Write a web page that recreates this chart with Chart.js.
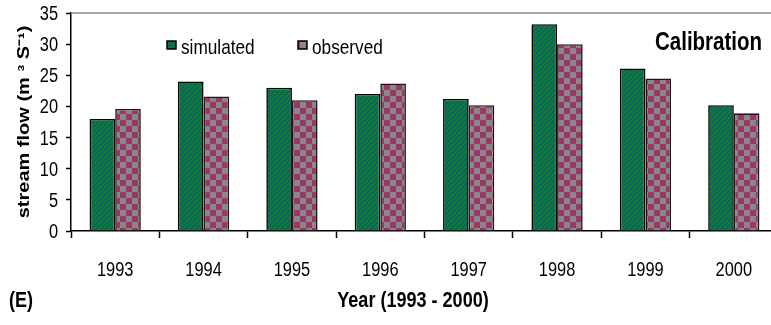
<!DOCTYPE html>
<html>
<head>
<meta charset="utf-8">
<script src="https://cdn.jsdelivr.net/npm/chart.js@4/dist/chart.umd.min.js"></script>
<style>
  html, body { margin: 0; padding: 0; background: #fff; overflow: hidden; }
  #wrap { width: 771px; height: 325px; overflow: hidden; }
</style>
</head>
<body>
<div id="wrap"><canvas id="c" width="800" height="325"></canvas></div>
<script>
// Annual stream flow, calibration period
const years = ['1993', '1994', '1995', '1996', '1997', '1998', '1999', '2000'];
const simulated = [18.0, 24.0, 23.0, 22.0, 21.2, 33.2, 26.1, 20.2];
const observed  = [19.6, 21.6, 21.0, 23.7, 20.2, 30.0, 24.5, 18.9];
const yTicks = [0, 5, 10, 15, 20, 25, 30, 35];

const FONT = '"Liberation Sans", Arial, sans-serif';
const NARROW = 0.82;   // horizontal squeeze for an Arial-Narrow look

// Green fill with blue "/" diagonal stripes
function stripePattern() {
  const s = 5;
  const c = document.createElement('canvas');
  c.width = s; c.height = s;
  const g = c.getContext('2d');
  g.fillStyle = '#0a870a';
  g.fillRect(0, 0, s, s);
  g.strokeStyle = '#1a3cd6';
  g.lineWidth = 1.1;
  g.beginPath();
  g.moveTo(-1, s + 1); g.lineTo(s + 1, -1);
  g.moveTo(-1, 1); g.lineTo(1, -1);
  g.moveTo(s - 1, s + 1); g.lineTo(s + 1, s - 1);
  g.stroke();
  return g.createPattern(c, 'repeat');
}

// Magenta / grey checkerboard
function checkerPattern() {
  const s = 6;
  const c = document.createElement('canvas');
  c.width = 2 * s; c.height = 2 * s;
  const g = c.getContext('2d');
  g.fillStyle = '#888888';
  g.fillRect(0, 0, 2 * s, 2 * s);
  g.fillStyle = '#9c3668';
  g.fillRect(0, 0, s, s);
  g.fillRect(s, s, s, s);
  return g.createPattern(c, 'repeat');
}

const simFill = stripePattern();
const obsFill = checkerPattern();

// text squeezed horizontally
function narrowText(ctx, str, x, y, font, align) {
  ctx.save();
  ctx.font = font;
  ctx.textAlign = align || 'left';
  ctx.textBaseline = 'alphabetic';
  ctx.fillStyle = '#000';
  ctx.translate(x, y);
  ctx.scale(NARROW, 1);
  ctx.fillText(str, 0, 0);
  ctx.restore();
}

const annotate = {
  id: 'annotate',
  afterDraw(chart) {
    const ctx = chart.ctx;
    const a = chart.chartArea;
    ctx.save();
    // top frame line
    ctx.strokeStyle = '#8c8c8c';
    ctx.lineWidth = 1.5;
    ctx.beginPath();
    ctx.moveTo(a.left, a.top);
    ctx.lineTo(a.right, a.top);
    ctx.stroke();

    // value labels beside the y axis
    const ys = chart.scales.y;
    ys.ticks.forEach(t => {
      narrowText(ctx, String(t.value), 58, ys.getPixelForValue(t.value) + 7, '20px ' + FONT, 'right');
    });

    // year labels under the category axis
    const xs = chart.scales.x;
    xs.ticks.forEach((t, i) => {
      narrowText(ctx, chart.data.labels[i], xs.getPixelForTick(i), 276, '20px ' + FONT, 'center');
    });

    // legend
    const items = [
      { x: 167, fill: simFill, label: chart.data.datasets[0].label },
      { x: 298, fill: obsFill, label: chart.data.datasets[1].label }
    ];
    items.forEach(it => {
      ctx.fillStyle = it.fill;
      ctx.fillRect(it.x, 41, 9, 8);
      ctx.strokeStyle = '#000';
      ctx.lineWidth = 1.5;
      ctx.strokeRect(it.x, 41, 9, 8);
      narrowText(ctx, it.label, it.x + 14, 54, '21px ' + FONT, 'left');
    });

    // panel caption
    narrowText(ctx, 'Calibration', 655, 50, 'bold 25px ' + FONT, 'left');

    // panel letter and x-axis title
    narrowText(ctx, '(E)', 9, 307, 'bold 22px ' + FONT, 'left');
    narrowText(ctx, 'Year (1993 - 2000)', 413, 307, 'bold 22px ' + FONT, 'center');

    // y-axis title (glyph height squeezed, length kept)
    ctx.translate(29, (a.top + a.bottom) / 2);
    ctx.rotate(-Math.PI / 2);
    ctx.scale(1, NARROW);
    ctx.font = 'bold 20px ' + FONT;
    ctx.textAlign = 'center';
    ctx.textBaseline = 'alphabetic';
    ctx.fillStyle = '#000';
    ctx.fillText('stream flow (m \u00B3 S\u207B\u00B9)', 0, 0);
    ctx.restore();
  }
};

new Chart(document.getElementById('c'), {
  type: 'bar',
  data: {
    labels: years,
    datasets: [
      { label: 'simulated', data: simulated, backgroundColor: simFill,
        borderColor: '#000', borderWidth: 1.6,
        categoryPercentage: 0.58, barPercentage: 1.0 },
      { label: 'observed', data: observed, backgroundColor: obsFill,
        borderColor: '#1a1a1a', borderWidth: 1.6,
        categoryPercentage: 0.58, barPercentage: 1.0 }
    ]
  },
  options: {
    responsive: false,
    animation: false,
    devicePixelRatio: 1,
    layout: { padding: { left: 0, right: 22, top: 13, bottom: 0 } },
    plugins: { legend: { display: false }, tooltip: { enabled: false } },
    scales: {
      x: {
        offset: true,
        grid: { offset: true, drawOnChartArea: false, tickLength: 7, tickColor: '#000', tickWidth: 1.5 },
        border: { color: '#000', width: 1.5 },
        ticks: { display: false },
        afterFit(s) { s.height = 94; }
      },
      y: {
        min: 0, max: 35,
        afterBuildTicks(s) { s.ticks = yTicks.map(v => ({ value: v })); },
        grid: { drawOnChartArea: false, tickLength: 5, tickColor: '#000', tickWidth: 1.5 },
        border: { color: '#000', width: 1.5 },
        ticks: { display: false },
        afterFit(s) { s.width = 71; }
      }
    }
  },
  plugins: [annotate]
});
</script>
</body>
</html>
